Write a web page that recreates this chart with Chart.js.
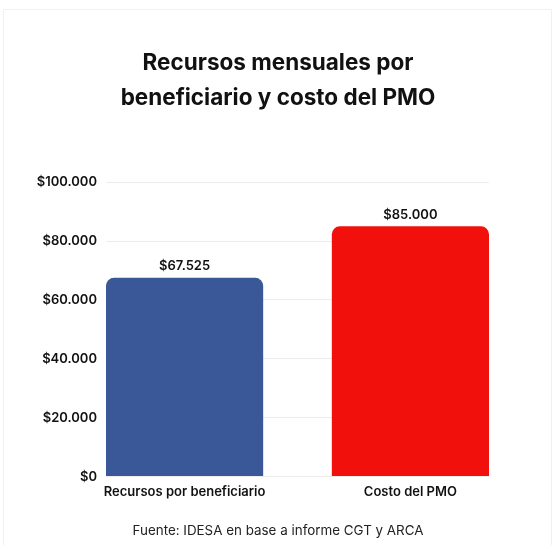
<!DOCTYPE html>
<html>
<head>
<meta charset="utf-8">
<script src="https://cdn.jsdelivr.net/npm/chart.js@4"></script>
<style>
  html, body { margin: 0; padding: 0; background: #fff; }
  #wrap { position: relative; width: 556px; height: 545px; }
  #card { position: absolute; left: 3px; top: 9px; width: 549px; height: 545px;
          border: 1px solid #f1f1f1; box-sizing: border-box; }
  canvas { position: absolute; left: 0; top: 0; }
</style>
</head>
<body>
<div id="wrap">
  <div id="card"></div>
  <canvas id="c" width="556" height="545"></canvas>
</div>
<script>
var categories = ['Recursos por beneficiario', 'Costo del PMO'];
var values = [67525, 85000];
var barColors = ['#3A5898', '#F2100C'];
var yTicks = [0, 20000, 40000, 60000, 80000, 100000];

function money(v) {
  return '$' + String(v).replace(/\B(?=(\d{3})+(?!\d))/g, '.');
}

// etiquetas de valor encima de cada barra
var valueLabels = {
  id: 'valueLabels',
  afterDatasetsDraw: function (chart) {
    var ctx = chart.ctx;
    var meta = chart.getDatasetMeta(0);
    ctx.save();
    ctx.font = '600 13px Inter';
    ctx.fillStyle = '#111';
    ctx.textAlign = 'center';
    ctx.textBaseline = 'bottom';
    meta.data.forEach(function (bar, i) {
      ctx.fillText(money(values[i]), bar.x, bar.y - 5);
    });
    ctx.restore();
  }
};

var ctx = document.getElementById('c').getContext('2d');
new Chart(ctx, {
  type: 'bar',
  data: {
    datasets: [{
      data: categories.map(function (c, i) { return { x: i, y: values[i] }; }),
      backgroundColor: barColors,
      borderRadius: 8,
      categoryPercentage: 0.696,
      barPercentage: 1
    }]
  },
  options: {
    responsive: false,
    animation: false,
    layout: { padding: { left: 0, right: 0, top: 0, bottom: 6 } },
    plugins: {
      legend: { display: false },
      tooltip: { enabled: false },
      title: {
        display: true,
        text: ['Recursos mensuales por', 'beneficiario y costo del PMO'],
        color: '#111',
        font: { family: 'Inter', size: 22.5, weight: '700', lineHeight: 1.56 },
        padding: { top: 46, bottom: 66 }
      },
      subtitle: {
        display: true,
        position: 'bottom',
        text: 'Fuente: IDESA en base a informe CGT y ARCA',
        color: '#222',
        font: { family: 'Inter', size: 13.4, weight: '400', lineHeight: 1.2 },
        padding: { top: 24, bottom: 0 }
      }
    },
    scales: {
      x: {
        type: 'linear',
        bounds: 'data',
        offset: false,
        min: -0.348,
        max: 1.348,
        grid: { display: false },
        border: { display: false },
        afterBuildTicks: function (scale) {
          scale.ticks = categories.map(function (c, i) { return { value: i }; });
        },
        ticks: {
          autoSkip: false,
          maxRotation: 0,
          padding: 0,
          color: '#111',
          font: { family: 'Inter', size: 13, weight: '600', lineHeight: 1.1 },
          callback: function (v) { return categories[v]; }
        }
      },
      y: {
        min: 0,
        max: 100000,
        afterBuildTicks: function (scale) {
          scale.ticks = yTicks.map(function (v) { return { value: v }; });
        },
        afterFit: function (scale) { scale.width = 106; },
        grid: { color: '#ececec', drawTicks: false },
        border: { display: false },
        ticks: {
          padding: 9,
          color: '#111',
          font: { family: 'Inter', size: 13, weight: '600' },
          callback: function (v) { return money(v); }
        }
      },
      // eje vacío a la derecha, solo para reservar margen
      yRight: {
        position: 'right',
        grid: { display: false },
        border: { display: false },
        ticks: { display: false },
        afterFit: function (scale) { scale.width = 67; }
      }
    }
  },
  plugins: [valueLabels]
});
</script>
</body>
</html>
